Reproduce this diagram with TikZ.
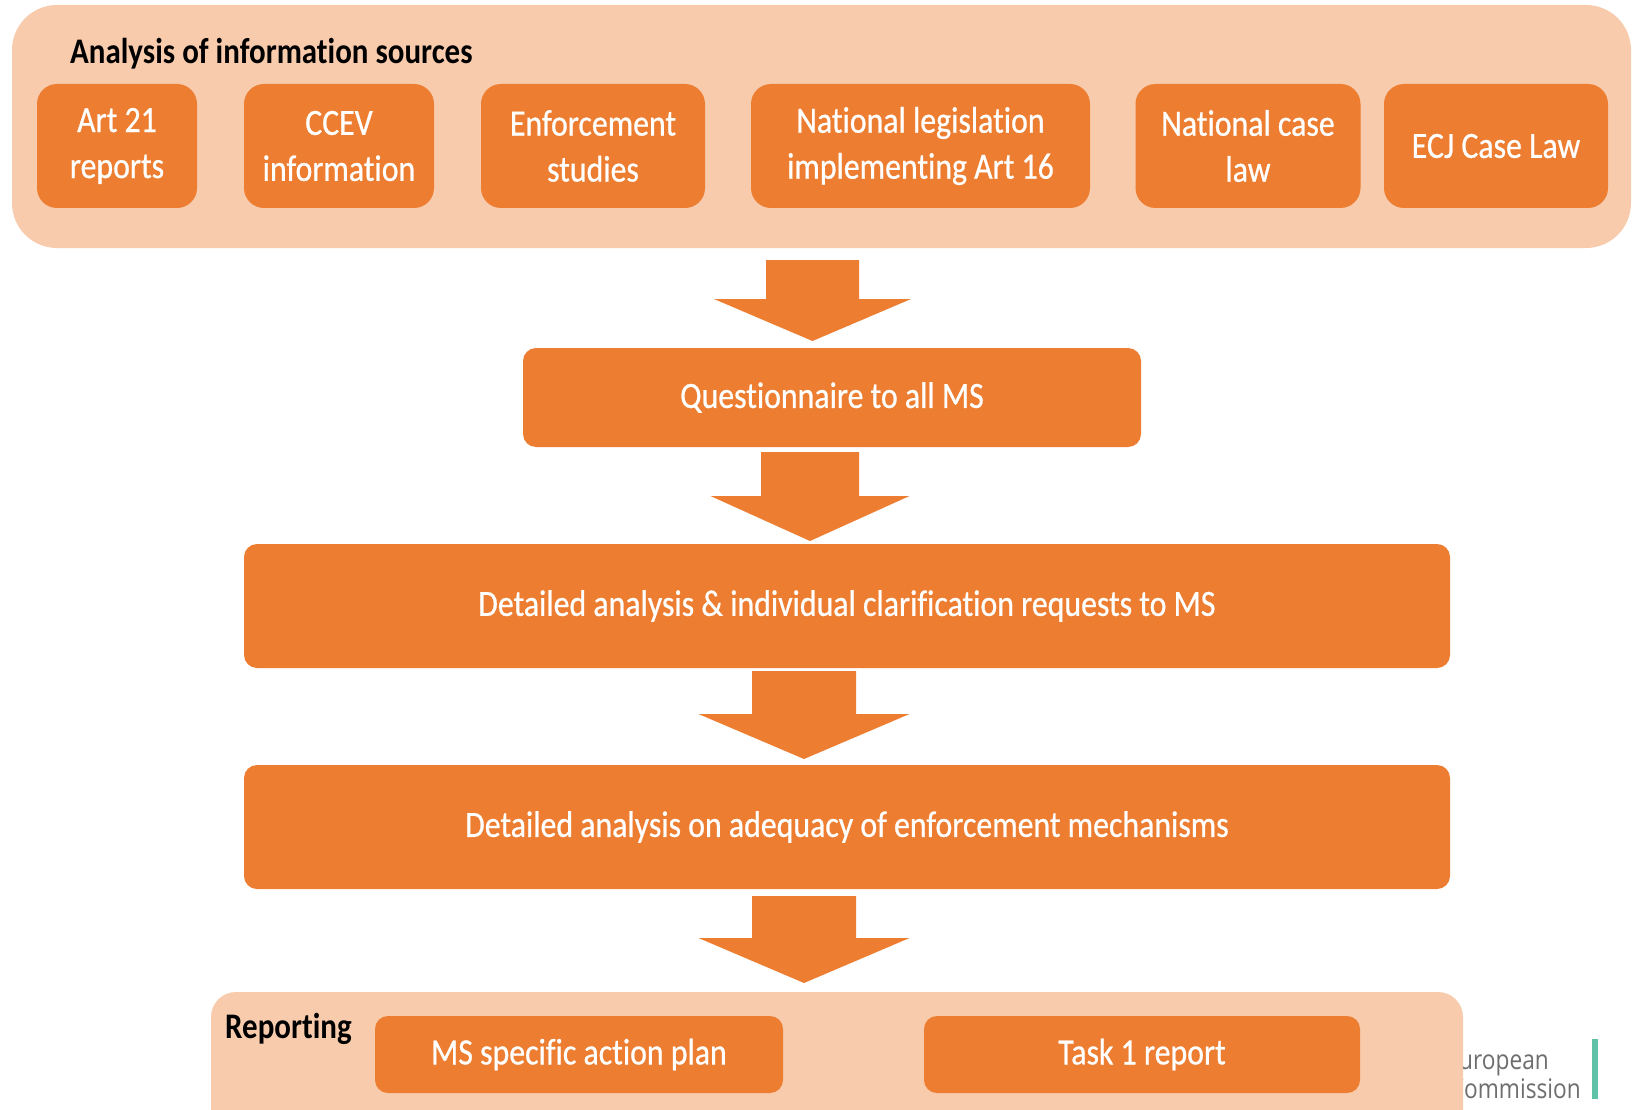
\documentclass[tikz,border=0pt]{standalone}
\usepackage{fontspec}
\setmainfont[FakeStretch=0.86, Ligatures={NoCommon}]{Carlito}
\newfontfamily\boxfont[FakeStretch=0.86, FakeBold=0.7, Ligatures={NoCommon}]{Carlito}
\newfontfamily\ecfont[FakeStretch=0.84]{Open Sans}
\definecolor{panelfill}{HTML}{F8CBAD}
\definecolor{boxfill}{HTML}{ED7D31}
\definecolor{ecgrey}{HTML}{6E6E6E}
\definecolor{ecgreen}{HTML}{5FC1A6}

\tikzset{
  panelbox/.style={fill=panelfill, draw=none, inner sep=0pt},
  srcbox/.style={fill=boxfill, draw=none, rounded corners=20pt, inner sep=0pt,
    align=center, text=white, font=\boxfont\fontsize{37}{46}\selectfont},
  stagebox/.style={fill=boxfill, draw=none, rounded corners=13pt, inner sep=0pt,
    align=center, text=white, font=\boxfont\fontsize{37}{46}\selectfont},
  heading/.style={inner sep=0pt, text=black, font=\bfseries\fontsize{36}{46}\selectfont},
  blockarrow/.style={fill=boxfill, draw=none},
}

% block arrow: centre x, shaft half width, top y, wing y, wing half width, tip y
\newcommand\downblock[6]{%
  \fill[blockarrow] (#1-#2,#3) -- (#1+#2,#3) -- (#1+#2,#4) -- (#1+#5,#4)
    -- (#1,#6) -- (#1-#5,#4) -- (#1-#2,#4) -- cycle;}

\begin{document}
\begin{tikzpicture}[x=1pt,y=-1pt]
\clip (0,0) rectangle (1633,1110);
\fill[white] (0,0) rectangle (1633,1110);

% information sources
\node[panelbox, rounded corners=45pt, minimum width=1619, minimum height=243] (sources) at (821.5,126.5) {};
\node[heading, anchor=base west] (srctitle) at (70,64) {Analysis of information sources};
\node[srcbox, minimum width=160, minimum height=124] (art21) at (117,146) {Art 21\\reports};
\node[srcbox, minimum width=190, minimum height=124] (ccev) at (339,146) {CCEV\\information};
\node[srcbox, minimum width=224, minimum height=124] (enf) at (593,146) {Enforcement\\studies};
\node[srcbox, minimum width=339, minimum height=124] (natleg) at (920.5,146) {National legislation\\implementing Art 16};
\node[srcbox, minimum width=225, minimum height=124] (natcase) at (1248,146) {National case\\law};
\node[srcbox, minimum width=224, minimum height=124] (ecj) at (1496,146) {ECJ Case Law};

% process stages
\node[stagebox, minimum width=618, minimum height=99] (quest) at (832,397.5) {Questionnaire to all MS};
\node[stagebox, minimum width=1206, minimum height=124] (clar) at (847,606) {Detailed analysis \& individual clarification requests to MS};
\node[stagebox, minimum width=1206, minimum height=124] (adeq) at (847,827) {Detailed analysis on adequacy of enforcement mechanisms};

% flow arrows
\downblock{812.5}{46.5}{260}{299}{98.5}{341}
\downblock{810}{49}{452}{496}{99.5}{541}
\downblock{804}{52}{671}{714}{105.5}{759}
\downblock{804}{52}{896}{938}{105.5}{983}

% logo fragment behind the reporting panel
\node[anchor=base east, inner sep=0pt, text=ecgrey, font=\ecfont\fontsize{27}{30}\selectfont] (eu1) at (1549,1069) {European};
\node[anchor=base east, inner sep=0pt, text=ecgrey, font=\ecfont\fontsize{27}{30}\selectfont] (eu2) at (1581,1098) {Commission};
\fill[ecgreen] (1592,1039) rectangle (1598,1099);

% reporting
\node[panelbox, rounded corners=25pt, minimum width=1252, minimum height=180] (report) at (837,1082) {};
\node[heading, anchor=base west] (reptitle) at (225,1038) {Reporting};
\node[stagebox, minimum width=408, minimum height=77] (plan) at (579,1054.5) {MS specific action plan};
\node[stagebox, minimum width=436, minimum height=77] (task) at (1142,1054.5) {Task 1 report};
\end{tikzpicture}
\end{document}
